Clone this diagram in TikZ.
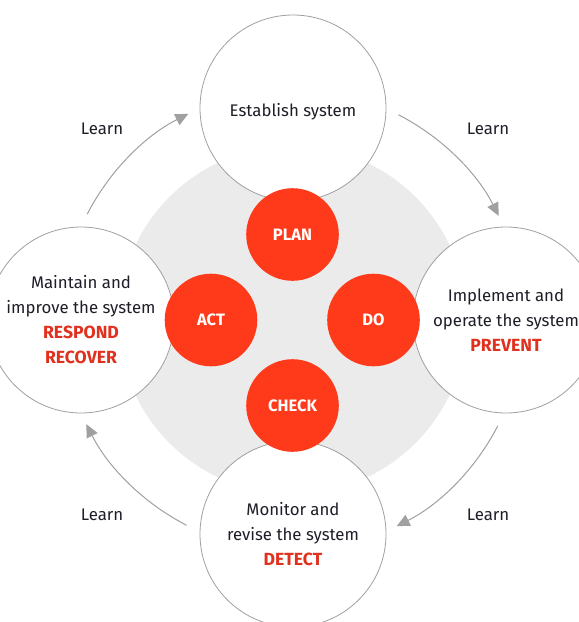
\documentclass[tikz,border=0pt]{standalone}
\usepackage{fontspec}
\setmainfont{Fira Sans}
\usetikzlibrary{arrows.meta}
\definecolor{redc}{RGB}{255,58,26}
\definecolor{redtext}{RGB}{224,48,30}
\definecolor{edgegrey}{RGB}{160,160,160}
\definecolor{arrowgrey}{RGB}{160,160,163}
\definecolor{discgrey}{RGB}{235,235,235}
\definecolor{textdark}{RGB}{30,30,40}
\newcommand{\hilite}[1]{{\color{redtext}\bfseries\fontsize{17.6}{25}\selectfont #1}}
\begin{document}
\begin{tikzpicture}[x=1pt,y=1pt,
  stage/.style={circle,draw=edgegrey,line width=0.8pt,fill=white,minimum size=186pt,inner sep=0pt,align=center,text=textdark,font=\fontsize{16.8}{25}\selectfont},
  phase/.style={circle,fill=redc,minimum size=92.6pt,inner sep=0pt,text=white,font=\bfseries\fontsize{16.5}{18}\selectfont},
  learnarrow/.style={draw=arrowgrey,line width=1pt,-{Triangle[length=13pt,width=12pt]}},
  learnlabel/.style={text=textdark,font=\fontsize{16.8}{18}\selectfont,inner sep=0pt}]
\useasboundingbox (0,0) rectangle (579,-622);
\clip (0,0) rectangle (579,-622);
\coordinate (ctr) at (292.5,-320);
\fill[discgrey] (ctr) circle[radius=174];
% stage circles
\node[stage] (top) at (293,-108) {\raisebox{-3.5pt}[\height][\depth]{Establish system}};
\node[stage] (left) at (81,-320) {Maintain and\\improve the system\\\hilite{RESPOND}\\\hilite{RECOVER}};
\node[stage] (right) at (506,-320) {Implement and\\operate the system\\\hilite{PREVENT}};
\node[stage] (bottom) at (293,-534) {Monitor and\\revise the system\\\hilite{DETECT}};
% phase circles
\node[phase] (plan) at (292.5,-234.5) {PLAN};
\node[phase] (act) at (211,-320) {ACT};
\node[phase] (do) at (373.5,-320) {DO};
\node[phase] (check) at (292.5,-405.5) {CHECK};
% learn arrows
\coordinate (a1s) at ([shift={(ctr)}]152.7:231);
\coordinate (a2s) at ([shift={(ctr)}]62.7:231);
\coordinate (a3s) at ([shift={(ctr)}]-27.3:231);
\coordinate (a4s) at ([shift={(ctr)}]-117.3:231);
\draw[learnarrow] (a1s) arc[start angle=152.7,end angle=116.8,radius=231];
\draw[learnarrow] (a2s) arc[start angle=62.7,end angle=26.8,radius=231];
\draw[learnarrow] (a3s) arc[start angle=-27.3,end angle=-63.2,radius=231];
\draw[learnarrow] (a4s) arc[start angle=-117.3,end angle=-153.2,radius=231];
\node[learnlabel] (l1) at (102,-129) {Learn};
\node[learnlabel] (l2) at (488,-129) {Learn};
\node[learnlabel] (l3) at (102,-515) {Learn};
\node[learnlabel] (l4) at (488,-515) {Learn};
\end{tikzpicture}
\end{document}
